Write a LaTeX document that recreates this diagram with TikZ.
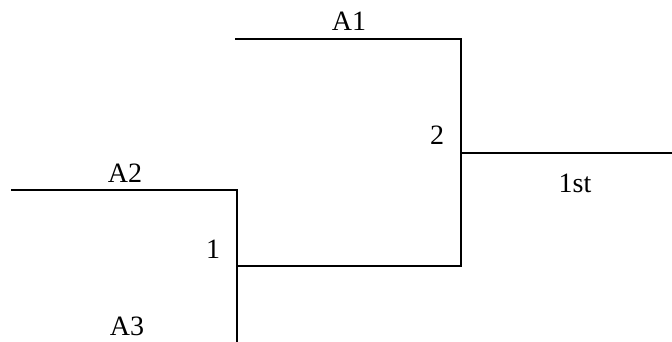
\documentclass[tikz,border=0pt]{standalone}
\usepackage{fontspec}
\setmainfont{Liberation Serif}
\usetikzlibrary{calc}
\tikzset{
  bracket/.style={line width=2pt,line cap=rect},
  seed/.style={font=\fontsize{28}{32}\selectfont,inner sep=0pt}
}
\begin{document}
\begin{tikzpicture}[x=1pt,y=-1pt]
\useasboundingbox (0,0) rectangle (672,341);
% round 1
\coordinate (a2l) at (12,190);
\coordinate (a2r) at (237,190);
\coordinate (m1b) at (237,341);
\coordinate (m1o) at (237,266);
% round 2
\coordinate (a1l) at (236,39);
\coordinate (a1r) at (461,39);
\coordinate (m2b) at (461,266);
\coordinate (m2o) at (461,153);
\coordinate (win) at (672,153);
\draw[bracket] (a2l) -- (a2r) -- (m1b);
\draw[bracket] (m1o) -- (m2b);
\draw[bracket] (a1l) -- (a1r) -- (m2b);
\draw[bracket] (m2o) -- (win);
% labels
\node[seed] (lA1) at (349,21) {A1};
\node[seed] (lA2) at (125,173) {A2};
\node[seed] (lA3) at (127,326) {A3};
\node[seed] (l1) at (213,249) {1};
\node[seed] (l2) at (437,135) {2};
\node[seed] (l1st) at (575,183) {1st};
\end{tikzpicture}
\end{document}
